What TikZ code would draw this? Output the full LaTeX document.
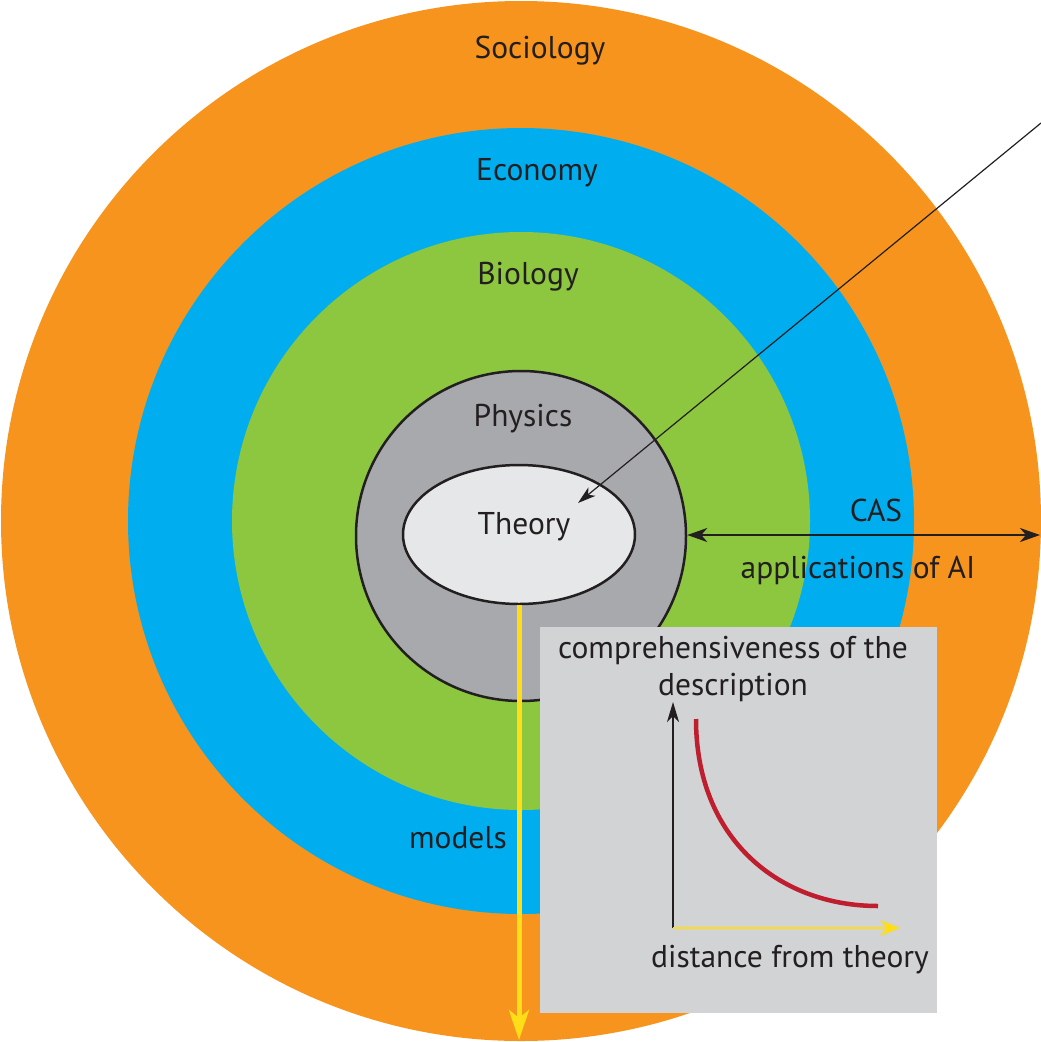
\documentclass[tikz,border=0pt]{standalone}
\usepackage{fontspec}
\setmainfont{PT Sans}
\usetikzlibrary{shapes.geometric,arrows.meta}
\definecolor{corange}{HTML}{F7941D}
\definecolor{cblue}{HTML}{00AEEF}
\definecolor{cgreen}{HTML}{8DC63F}
\definecolor{cgray}{HTML}{A7A9AC}
\definecolor{clight}{HTML}{E6E7E8}
\definecolor{cbox}{HTML}{D1D3D4}
\definecolor{cred}{HTML}{BE1E2D}
\definecolor{cyellow}{HTML}{FFDE17}
\definecolor{ctext}{HTML}{231F20}
\tikzset{
  ring/.style={circle, inner sep=0pt, draw=none},
  lbl/.style={text=ctext, font=\fontsize{31.5}{37}\selectfont, inner sep=0pt},
  outl/.style={draw=ctext, line width=2.5pt},
}
\begin{document}
\begin{tikzpicture}[x=1pt,y=-1pt]
\useasboundingbox (0,0) rectangle (1041,1042);
% rings
\node[ring, fill=corange, minimum size=1040pt] (soc) at (521,521) {};
\node[ring, fill=cblue, minimum size=786pt] (eco) at (521,521) {};
\node[ring, fill=cgreen, minimum size=578pt] (bio) at (521,521) {};
\node[circle, outl, fill=cgray, minimum size=330pt, inner sep=0pt] (phys) at (521,536) {};
\node[ellipse, outl, fill=clight, minimum width=232pt, minimum height=139pt, inner sep=0pt] (theo) at (519,534.5) {};
% labels
\node[lbl] (lsoc) at (540,51) {Sociology};
\node[lbl] (leco) at (537,173) {Economy};
\node[lbl] (lbio) at (528,277) {Biology};
\node[lbl] (lphys) at (523,419) {Physics};
\node[lbl] (ltheo) at (524,527) {Theory};
\node[lbl] (lmod) at (458,838) {models};
% pointer arrow
\coordinate (ptrS) at (1041,123);
\coordinate (ptrE) at (578,503);
\draw[ctext, line width=1.2pt, -{Stealth[length=18pt,width=11pt,inset=5pt]}] (ptrS) -- (ptrE);
% CAS double arrow
\coordinate (casR) at (1040,535);
\draw[ctext, line width=2pt, {Stealth[length=20pt,width=14pt,inset=6pt]}-{Stealth[length=20pt,width=14pt,inset=6pt]}] (phys.east |- casR) -- (casR);
\node[lbl] (lcas) at (876,510) {CAS};
\node[lbl] (lai) at (858,570) {applications of AI};
% yellow arrow
\coordinate (yEnd) at (519,1040);
\draw[cyellow, line width=5pt, -{Stealth[length=30pt,width=20pt,inset=8pt]}] (theo.south) -- (yEnd);
% inset box
\node[rectangle, fill=cbox, minimum width=397pt, minimum height=386pt, inner sep=0pt] (box) at (738.5,820) {};
\node[lbl, align=center] (lcomp) at (733,669) {comprehensiveness of the\\description};
\coordinate (orig) at (673,928);
\coordinate (ytop) at (673,702);
\coordinate (xend) at (900,928);
\draw[ctext, line width=1.8pt, -{Stealth[length=20pt,width=12pt,inset=6pt]}] (orig) -- (ytop);
\draw[cyellow, line width=2.5pt, -{Stealth[length=20pt,width=16pt,inset=7pt]}] (orig) -- (xend);
\coordinate (cS) at (696,719);
\coordinate (cE) at (878,906);
\draw[cred, line width=4.5pt] (cS) .. controls (696,840) and (780,906) .. (cE);
\node[lbl] (ldist) at (790,960) {distance from theory};
\end{tikzpicture}
\end{document}
